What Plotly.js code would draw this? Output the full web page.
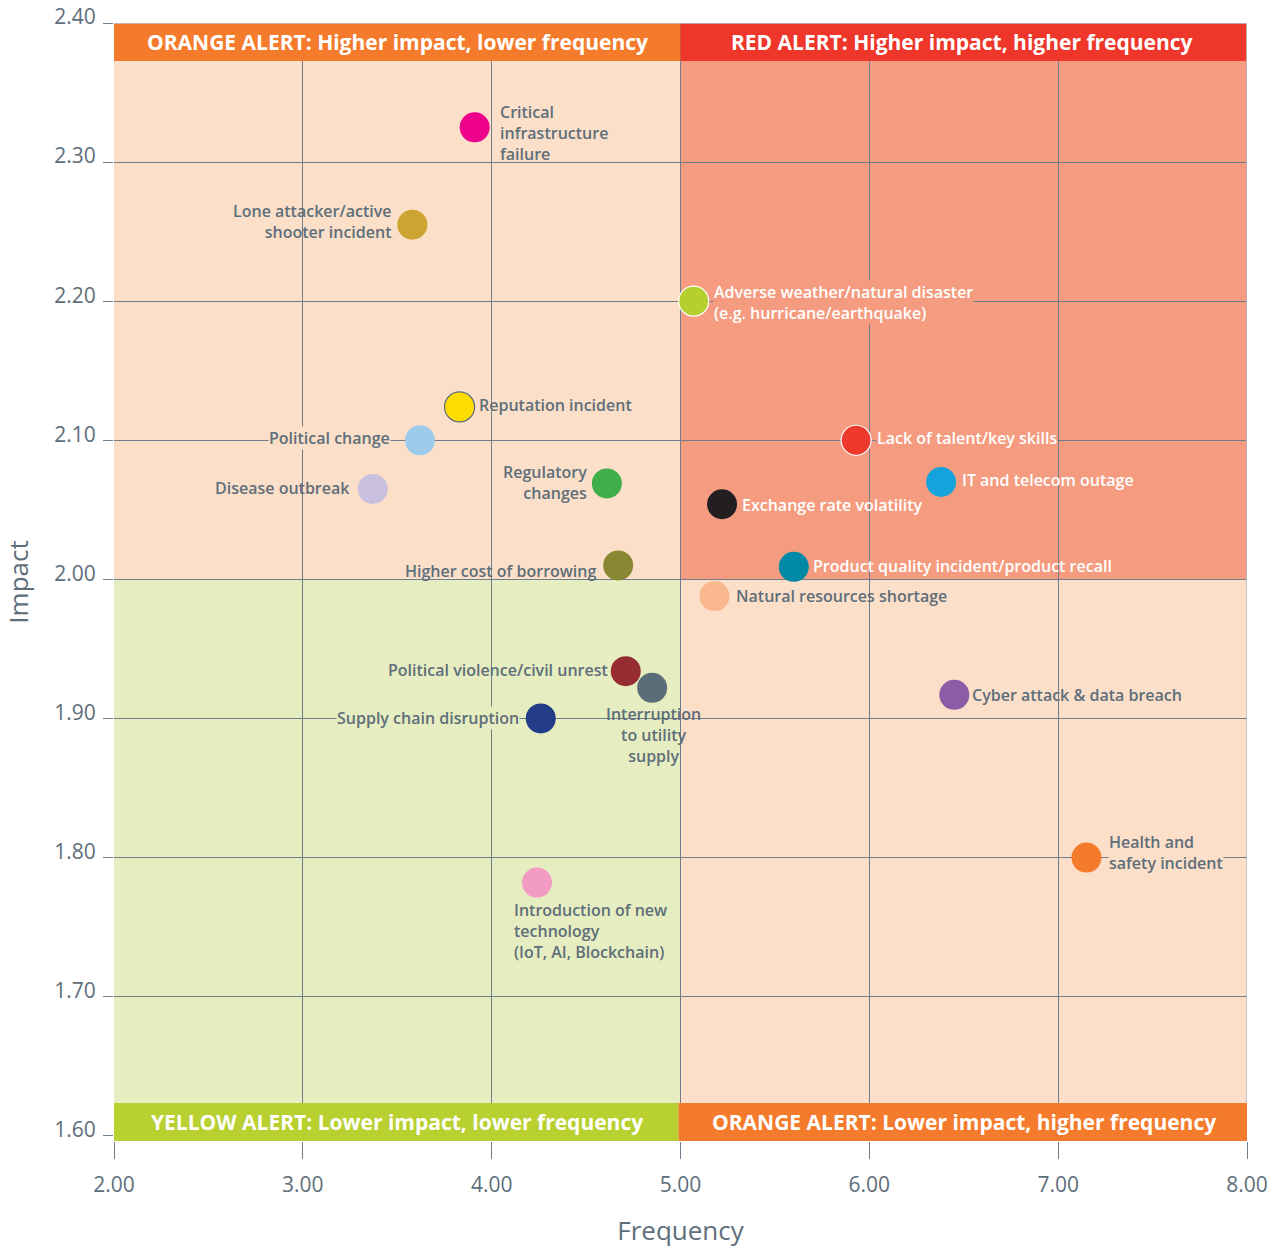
<!DOCTYPE html>
<html>
<head>
<meta charset="utf-8">
<script src="https://cdn.plot.ly/plotly-3.0.1.min.js"></script>
<style>html,body{margin:0;padding:0;background:#fff;}#chart{width:1279px;height:1248px;}</style>
</head>
<body>
<div id="chart"></div>
<script>
// ---------- DATA ----------
const riskNames = [
  "Critical infrastructure failure",
  "Lone attacker/active shooter incident",
  "Adverse weather/natural disaster (e.g. hurricane/earthquake)",
  "Reputation incident",
  "Political change",
  "Disease outbreak",
  "Regulatory changes",
  "Higher cost of borrowing",
  "Lack of talent/key skills",
  "IT and telecom outage",
  "Exchange rate volatility",
  "Product quality incident/product recall",
  "Natural resources shortage",
  "Political violence/civil unrest",
  "Interruption to utility supply",
  "Supply chain disruption",
  "Introduction of new technology (IoT, AI, Blockchain)",
  "Cyber attack & data breach",
  "Health and safety incident"
];
const frequency = [3.91, 3.58, 5.07, 3.83, 3.62, 3.37, 4.61, 4.67, 5.93, 6.38, 5.22, 5.60, 5.18, 4.71, 4.85, 4.26, 4.24, 6.45, 7.15];
const impact    = [2.325, 2.255, 2.200, 2.124, 2.100, 2.065, 2.069, 2.010, 2.100, 2.070, 2.054, 2.009, 1.988, 1.934, 1.922, 1.900, 1.782, 1.917, 1.800];
const labelText = [
  "Critical<br>infrastructure<br>failure",
  "Lone attacker/active<br>shooter incident",
  "Adverse weather/natural disaster<br>(e.g. hurricane/earthquake)",
  "Reputation incident",
  "Political change",
  "Disease outbreak",
  "Regulatory<br>changes",
  "Higher cost of borrowing",
  "Lack of talent/key skills",
  "IT and telecom outage",
  "Exchange rate volatility",
  "Product quality incident/product recall",
  "Natural resources shortage",
  "Political violence/civil unrest",
  "Interruption<br>to utility<br>supply",
  "Supply chain disruption",
  "Introduction of new<br>technology<br>(IoT, AI, Blockchain)",
  "Cyber attack & data breach",
  "Health and<br>safety incident"
];
const xTicks = [2, 3, 4, 5, 6, 7, 8];
const yTicks = [1.6, 1.7, 1.8, 1.9, 2.0, 2.1, 2.2, 2.3, 2.4];
const xTickText = ["2.00", "3.00", "4.00", "5.00", "6.00", "7.00", "8.00"];
const yTickText = ["1.60", "1.70", "1.80", "1.90", "2.00", "2.10", "2.20", "2.30", "2.40"];
const bannerTexts = [
  "ORANGE ALERT: Higher impact, lower frequency",
  "RED ALERT: Higher impact, higher frequency",
  "YELLOW ALERT: Lower impact, lower frequency",
  "ORANGE ALERT: Lower impact, higher frequency"
];

// ---------- STYLES ----------
const markerColors = ["#EC008C", "#CBA431", "#B5CF2F", "#FFDD00", "#9DCBEC", "#C9C0DF", "#40AE49", "#8A8732", "#EE3A2D", "#16A3DC", "#231F20", "#0089A5", "#F9B78D", "#962D32", "#5A6E7A", "#233C8A", "#F29CC3", "#8E5BA6", "#F47B2C"];
const markerLineColors = [null, null, "#FFFFFF", "#5E6E7A", null, null, null, null, "#FFFFFF", null, null, null, null, null, null, null, null, null, null];
const GREY = "#5E6E7A";
const PEACH = "#FBDFC8", SALMON = "#F59C80", LIME = "#E6EDC0";
const BASE_FONT = "'Open Sans', 'Noto Sans', sans-serif";

// label placement (pixel offsets relative to the marker)
const labelStyle = [
  {xa: "left",  ya: "middle", dx: 24,  dy: -6, al: "left"},
  {xa: "right", ya: "middle", dx: -20, dy: 3,  al: "right"},
  {xa: "left",  ya: "middle", dx: 19,  dy: -1, al: "left",  c: "#FFFFFF", bg: SALMON},
  {xa: "left",  ya: "middle", dx: 18,  dy: 2,  al: "left"},
  {xa: "right", ya: "middle", dx: -29, dy: 2,  al: "right", bg: PEACH},
  {xa: "right", ya: "middle", dx: -22, dy: 1,  al: "right"},
  {xa: "right", ya: "middle", dx: -19, dy: 1,  al: "right"},
  {xa: "right", ya: "middle", dx: -21, dy: -6, al: "right"},
  {xa: "left",  ya: "middle", dx: 20,  dy: 2,  al: "left",  c: "#FFFFFF", bg: SALMON},
  {xa: "left",  ya: "middle", dx: 20,  dy: 2,  al: "left",  c: "#FFFFFF"},
  {xa: "left",  ya: "middle", dx: 19,  dy: -1, al: "left",  c: "#FFFFFF"},
  {xa: "left",  ya: "middle", dx: 18,  dy: 1,  al: "left",  c: "#FFFFFF"},
  {xa: "left",  ya: "middle", dx: 21,  dy: 0,  al: "left"},
  {xa: "right", ya: "middle", dx: -17, dy: 1,  al: "right"},
  {xa: "center",ya: "top",    dx: 1,   dy: -14, al: "center"},
  {xa: "right", ya: "middle", dx: -21, dy: 0,  al: "right", bg: LIME},
  {xa: "left",  ya: "top",    dx: -24, dy: -15, al: "left"},
  {xa: "left",  ya: "middle", dx: 17,  dy: 0,  al: "left"},
  {xa: "left",  ya: "middle", dx: 22,  dy: 5,  al: "left",  bg: PEACH}
];

// ---------- LAYOUT GEOMETRY ----------
const xMin = 2, xMax = 8, yMin = 1.5962, yMax = 2.4;
const bannerH = 0.0273;

const trace = {
  type: "scatter",
  mode: "markers",
  x: frequency,
  y: impact,
  text: riskNames,
  hoverinfo: "text",
  marker: {
    size: 30,
    color: markerColors,
    line: {
      color: markerLineColors.map((c, i) => c || markerColors[i]),
      width: markerLineColors.map(c => c ? 1.2 : 0)
    },
    opacity: 1
  },
  cliponaxis: false,
  showlegend: false
};

const shapes = [
  {type: "rect", layer: "below", xref: "x", yref: "y", x0: 2, x1: 5, y0: 2.0, y1: yMax, fillcolor: PEACH, line: {width: 0}},
  {type: "rect", layer: "below", xref: "x", yref: "y", x0: 5, x1: 8, y0: 2.0, y1: yMax, fillcolor: SALMON, line: {width: 0}},
  {type: "rect", layer: "below", xref: "x", yref: "y", x0: 2, x1: 5, y0: yMin, y1: 2.0, fillcolor: LIME, line: {width: 0}},
  {type: "rect", layer: "below", xref: "x", yref: "y", x0: 5, x1: 8, y0: yMin, y1: 2.0, fillcolor: PEACH, line: {width: 0}},
  // banners
  {type: "rect", layer: "between", xref: "x", yref: "y", x0: 2, x1: 5, y0: yMax - bannerH, y1: yMax, fillcolor: "#F47B2C", line: {width: 0}},
  {type: "rect", layer: "between", xref: "x", yref: "y", x0: 5, x1: 7.995, y0: yMax - bannerH, y1: yMax, fillcolor: "#EE362B", line: {width: 0}},
  {type: "rect", layer: "between", xref: "x", yref: "y", x0: 2, x1: 4.99, y0: yMin, y1: yMin + bannerH, fillcolor: "#B8D030", line: {width: 0}},
  {type: "rect", layer: "between", xref: "x", yref: "y", x0: 4.99, x1: 8.016, y0: yMin, y1: yMin + bannerH, fillcolor: "#F47B2C", line: {width: 0}},
  // light frame top & right
  {type: "line", layer: "above", xref: "x", yref: "y", x0: 2, x1: 8, y0: yMax, y1: yMax, line: {color: "#BCC6CE", width: 1.5}},
  {type: "line", layer: "between", xref: "x", yref: "y", x0: 8, x1: 8, y0: yMin + bannerH, y1: yMax, line: {color: "#AEB9C2", width: 1.5}}
];

const bannerPos = [
  {x: 3.5, y: yMax - bannerH / 2},
  {x: 6.49, y: yMax - bannerH / 2},
  {x: 3.5, y: yMin + bannerH / 2},
  {x: 6.5, y: yMin + bannerH / 2}
];

const annotations = [];
bannerTexts.forEach((t, i) => {
  annotations.push({
    x: bannerPos[i].x, y: bannerPos[i].y, xref: "x", yref: "y",
    text: t, showarrow: false, xanchor: "center", yanchor: "middle",
    font: {family: BASE_FONT, size: 21, color: "#FFFFFF", weight: 700}
  });
});
riskNames.forEach((n, i) => {
  const s = labelStyle[i];
  const a = {
    x: frequency[i], y: impact[i], xref: "x", yref: "y",
    text: labelText[i], showarrow: false,
    xanchor: s.xa, yanchor: s.ya, xshift: s.dx, yshift: s.dy, align: s.al,
    font: {family: BASE_FONT, size: 16, color: s.c || GREY, weight: 600},
    borderpad: 0
  };
  if (s.bg) a.bgcolor = s.bg;
  annotations.push(a);
});

const layout = {
  width: 1279,
  height: 1248,
  margin: {l: 114, r: 32, t: 23, b: 107, pad: 0},
  paper_bgcolor: "#FFFFFF",
  plot_bgcolor: "#FFFFFF",
  font: {family: BASE_FONT, color: GREY},
  xaxis: {
    range: [xMin, xMax],
    tickvals: xTicks, ticktext: xTickText,
    showgrid: true, gridcolor: "#6E7D89", gridwidth: 1,
    zeroline: false, showline: false,
    ticks: "outside", ticklen: 17, tickcolor: "#6E7D89", tickwidth: 1,
    ticklabelstandoff: 8,
    tickfont: {family: BASE_FONT, size: 21, color: GREY},
    title: {text: "Frequency", font: {family: BASE_FONT, size: 26, color: GREY}, standoff: 26},
    automargin: false, fixedrange: true
  },
  yaxis: {
    range: [yMin, yMax],
    tickvals: yTicks, ticktext: yTickText,
    showgrid: true, gridcolor: "#6E7D89", gridwidth: 1,
    zeroline: false, showline: false,
    ticks: "outside", ticklen: 10, tickcolor: "#6E7D89", tickwidth: 1,
    ticklabelstandoff: 3, ticklabelshift: -6,
    tickfont: {family: BASE_FONT, size: 21, color: GREY},
    title: {text: "Impact", font: {family: BASE_FONT, size: 26, color: GREY}, standoff: 22},
    automargin: false, fixedrange: true
  },
  shapes: shapes,
  annotations: annotations,
  showlegend: false,
  hovermode: "closest"
};

Plotly.newPlot("chart", [trace], layout, {displayModeBar: false, staticPlot: true});
</script>
</body>
</html>
